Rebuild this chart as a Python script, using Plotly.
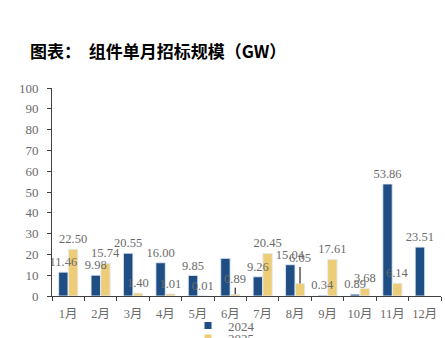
import plotly.graph_objects as go

months = ["1月", "2月", "3月", "4月", "5月", "6月", "7月", "8月", "9月", "10月", "11月", "12月"]
v2024 = [11.46, 9.98, 20.55, 16.00, 9.85, 18.1, 9.26, 15.04, 0.34, 0.89, 53.86, 23.51]
v2025 = [22.50, 15.74, 1.40, 1.01, 0.01, 0.89, 20.45, 6.05, 17.61, 3.68, 6.14, None]
# labels shown directly above bars ("" = hidden or drawn with a leader line)
t2024 = ["11.46", "9.98", "20.55", "16.00", "9.85", "", "9.26", "15.04", "0.34", "0.89", "53.86", "23.51"]
t2025 = ["22.50", "15.74", "1.40", "1.01", "0.01", "", "20.45", "", "17.61", "3.68", "6.14", ""]
# labels drawn with a leader line: (month index, value text, pixel offset up)
leader = [(5, "0.89", -15), (7, "6.05", -25)]
yticks = list(range(0, 101, 10))

C24 = "#1F4E84"
C25 = "#EDCD77"
GRAY = "#6b6b6b"
SERIF = "Liberation Serif, Times New Roman, Noto Sans CJK SC, serif"
LBL = dict(family=SERIF, size=12.5, color=GRAY)

fig = go.Figure()
# bars
fig.add_trace(go.Bar(x=months, y=v2024, name="2024", marker_color=C24,
                     offsetgroup="a", showlegend=False))
fig.add_trace(go.Bar(x=months, y=v2025, name="2025", marker_color=C25,
                     offsetgroup="b", showlegend=False))
# value labels on a layer above all bars
fig.add_trace(go.Bar(x=months, y=v2024, marker_color="rgba(0,0,0,0)",
                     offsetgroup="a", text=t2024, textposition="outside",
                     cliponaxis=False, constraintext="none", textangle=0,
                     textfont=LBL, showlegend=False, hoverinfo="skip"))
fig.add_trace(go.Bar(x=months, y=v2025, marker_color="rgba(0,0,0,0)",
                     offsetgroup="b", text=t2025, textposition="outside",
                     cliponaxis=False, constraintext="none", textangle=0,
                     textfont=LBL, showlegend=False, hoverinfo="skip"))
# legend entries (small square markers)
fig.add_trace(go.Scatter(x=[None], y=[None], mode="markers", name="2024",
                         marker=dict(symbol="square", size=7, color=C24),
                         legend="legend"))
fig.add_trace(go.Scatter(x=[None], y=[None], mode="markers", name="2025",
                         marker=dict(symbol="square", size=7, color=C25),
                         legend="legend2"))

for idx, txt, dy in leader:
    fig.add_annotation(x=months[idx], y=v2025[idx], xref="x", yref="y",
                       text=txt, showarrow=True, arrowhead=0, arrowwidth=1,
                       arrowcolor="#000000", ax=0, ay=dy, xshift=4.9,
                       font=LBL)

fig.update_layout(
    width=445, height=338,
    margin=dict(l=52, r=4, t=88, b=42, autoexpand=False),
    paper_bgcolor="white", plot_bgcolor="white",
    barmode="group", bargap=0.4, bargroupgap=0.03,
    title=dict(text="图表：  组件单月招标规模（GW）", xref="container", x=30/445,
               xanchor="left", yref="container", y=1-52/338, yanchor="middle",
               font=dict(family="Noto Sans CJK SC", size=17, color="#000000", weight="bold")),
    font=dict(family=SERIF, size=13, color=GRAY),
    legend=dict(orientation="v", x=(188-52)/389, xanchor="left",
                yref="container", y=1-325.5/338, yanchor="middle",
                font=dict(family=SERIF, size=13, color=GRAY),
                bgcolor="rgba(0,0,0,0)", itemwidth=30),
    legend2=dict(orientation="v", x=(188-52)/389, xanchor="left",
                 yref="container", y=0, yanchor="middle",
                 font=dict(family=SERIF, size=13, color=GRAY),
                 bgcolor="rgba(0,0,0,0)", itemwidth=30),
    xaxis=dict(type="category", showline=True, linecolor="#404040", linewidth=1,
               ticks="outside", tickson="boundaries", ticklen=4, tickcolor="#404040",
               tickangle=0, automargin=False, ticklabelstandoff=6,
               showgrid=False, tickfont=dict(family=SERIF, size=12.5, color=GRAY)),
    yaxis=dict(range=[0, 100], tickvals=yticks, showline=True, linecolor="#404040",
               linewidth=1, ticks="outside", ticklen=4, tickcolor="#404040",
               showgrid=False, zeroline=False, automargin=False, ticklabelstandoff=6,
               tickfont=dict(family=SERIF, size=13, color=GRAY)),
)

fig.write_html("out.html")
